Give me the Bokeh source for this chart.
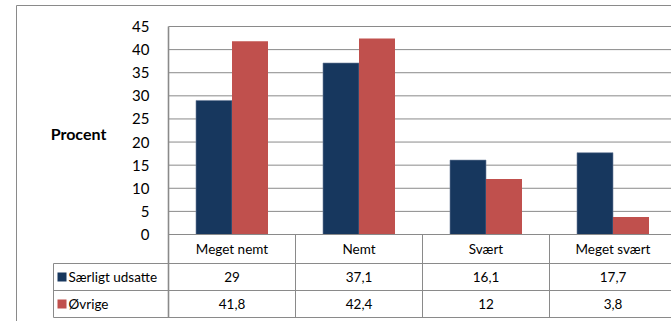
from bokeh.plotting import figure
from bokeh.models import Range1d, LinearAxis, FixedTicker
from bokeh.core.properties import value
from bokeh.embed import file_html
from bokeh.resources import INLINE

# ---- data ----
categories = ["Meget nemt", "Nemt", "Svært", "Meget svært"]
series_names = ["Særligt udsatte", "Øvrige"]
saerligt_udsatte = [29, 37.1, 16.1, 17.7]
oevrige = [41.8, 42.4, 12, 3.8]
y_ticks = [0, 5, 10, 15, 20, 25, 30, 35, 40, 45]
y_label = "Procent"
colors = ["#17375E", "#C0504D"]

# ---- layout helpers (image pixel -> data) ----
W, H = 671, 321
PX_PER_CAT = 127.0
X0_PX = 168.0
Y0_PX = 234.0
PX_PER_UNIT = 208.0 / 45.0


def xd(px):
    return -0.5 + (px - X0_PX) / PX_PER_CAT


def yd(py):
    return (Y0_PX - py) / PX_PER_UNIT


def fmt(v):
    s = ("%g" % v)
    return s.replace(".", ",")


FONT = value("Lato")
GRID = "#8a8a8a"

p = figure(width=W, height=H, x_range=Range1d(xd(0), xd(W)),
           y_range=Range1d(yd(H), yd(0)),
           output_backend="svg", toolbar_location=None, min_border=0,
           x_axis_type=None, y_axis_type=None, outline_line_color=None)
p.background_fill_color = "white"
p.border_fill_color = "white"

cats_x = list(range(len(categories)))
x_end = xd(W)

# gridlines (plot area)
p.segment(x0=[-0.5] * len(y_ticks), x1=[x_end] * len(y_ticks),
          y0=y_ticks, y1=y_ticks, line_color=GRID, line_width=1)

# bars
bw = 36.0 / PX_PER_CAT
off = 18.0 / PX_PER_CAT
p.vbar(x=[c - off for c in cats_x], top=saerligt_udsatte, width=bw, bottom=0,
       fill_color=colors[0], line_color="#6f819c", line_width=0.6)
p.vbar(x=[c + off for c in cats_x], top=oevrige, width=bw, bottom=0,
       fill_color=colors[1], line_color=None)

# y axis
yaxis = LinearAxis(ticker=FixedTicker(ticks=y_ticks), fixed_location=-0.5,
                   bounds=(0, 45))
yaxis.axis_line_color = None
yaxis.major_tick_line_color = None
yaxis.minor_tick_line_color = None
yaxis.major_tick_out = 0
yaxis.major_tick_in = 0
yaxis.major_label_standoff = 19
yaxis.major_label_text_font = "Lato"
yaxis.major_label_text_font_size = "15px"
yaxis.major_label_text_color = "black"
p.add_layout(yaxis, "left")

# y label
p.text(x=[xd(78)], y=[yd(133)], text=[y_label], text_font=FONT,
       text_font_size="16px", text_font_style="bold", text_align="center",
       text_baseline="middle", text_color="black")

# data table lines
r_head = yd(263)
r_1 = yd(290)
r_2 = yd(317)
hx0 = [-0.5, xd(53), xd(53), xd(53)]
hy = [0, r_head, r_1, r_2]
p.segment(x0=hx0, x1=[x_end] * 4, y0=hy, y1=hy, line_color=GRID, line_width=1)
# plot-area left edge (continues through the table)
p.segment(x0=[-0.5], x1=[-0.5], y0=[45], y1=[r_2], line_color=GRID,
          line_width=1.6)
vx = [0.5, 1.5, 2.5, xd(53)]
vy0 = [0, 0, 0, r_head]
vy1 = [r_2] * 4
p.segment(x0=vx, x1=vx, y0=vy0, y1=vy1, line_color=GRID, line_width=1)

# outer border
p.segment(x0=[xd(16), xd(16)], x1=[xd(16), x_end], y0=[yd(5), yd(5)],
          y1=[yd(H), yd(5)], line_color=GRID, line_width=1)

# table texts
row_head_y = yd(248.5)
row1_y = yd(276.5)
row2_y = yd(303.5)
p.text(x=cats_x, y=[row_head_y] * 4, text=categories, text_font=FONT,
       text_font_size="13.5px", text_align="center", text_baseline="middle",
       text_color="black")
p.text(x=cats_x, y=[row1_y] * 4, text=[fmt(v) for v in saerligt_udsatte],
       text_font=FONT, text_font_size="13.5px", text_align="center",
       text_baseline="middle", text_color="black")
p.text(x=cats_x, y=[row2_y] * 4, text=[fmt(v) for v in oevrige],
       text_font=FONT, text_font_size="13.5px", text_align="center",
       text_baseline="middle", text_color="black")

# legend keys in table
p.rect(x=[xd(61.5), xd(61.5)], y=[row1_y, row2_y], width=9, height=9,
       width_units="screen", height_units="screen", fill_color=colors,
       line_color=None)
p.text(x=[xd(68), xd(68)], y=[row1_y, row2_y], text=series_names,
       text_font=FONT, text_font_size="13.5px", text_align="left",
       text_baseline="middle", text_color="black")

open("out.html", "w").write(file_html(p, INLINE))
